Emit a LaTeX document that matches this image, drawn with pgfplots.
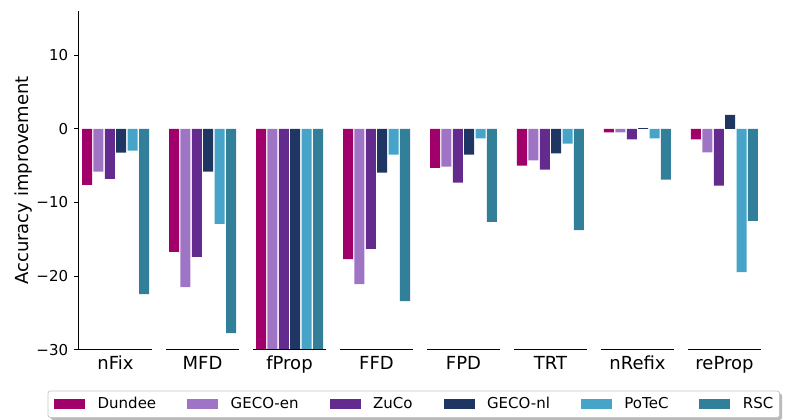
\documentclass[border=0pt]{standalone}
\usepackage{fontspec}
\setmainfont{DejaVu Sans}
\usepackage{pgfplots}
\pgfplotsset{compat=1.18}
\usepackage{pgfplotstable}
\usetikzlibrary{backgrounds}

\definecolor{cDundee}{HTML}{A1006B}
\definecolor{cGECOen}{HTML}{A074C4}
\definecolor{cZuCo}{HTML}{642B8E}
\definecolor{cGECOnl}{HTML}{1F3662}
\definecolor{cPoTeC}{HTML}{45A4C7}
\definecolor{cRSC}{HTML}{327F99}

% categories: 0 nFix, 1 MFD, 2 fProp, 3 FFD, 4 FPD, 5 TRT, 6 nRefix, 7 reProp
\pgfplotstableread{
x y
0 -7.6
1 -16.7
2 -30
3 -17.7
4 -5.3
5 -5.0
6 -0.5
7 -1.45
}\tDundee
\pgfplotstableread{
x y
0 -5.8
1 -21.5
2 -30
3 -21.1
4 -5.15
5 -4.3
6 -0.5
7 -3.2
}\tGECOen
\pgfplotstableread{
x y
0 -6.8
1 -17.4
2 -30
3 -16.3
4 -7.3
5 -5.55
6 -1.45
7 -7.7
}\tZuCo
\pgfplotstableread{
x y
0 -3.25
1 -5.8
2 -30
3 -5.95
4 -3.5
5 -3.35
6 0.1
7 1.9
}\tGECOnl
\pgfplotstableread{
x y
0 -2.95
1 -12.9
2 -30
3 -3.5
4 -1.3
5 -2.0
6 -1.3
7 -19.45
}\tPoTeC
\pgfplotstableread{
x y
0 -22.45
1 -27.75
2 -30
3 -23.4
4 -12.65
5 -13.75
6 -6.9
7 -12.5
}\tRSC

\begin{document}
\begin{tikzpicture}
\useasboundingbox (-79pt,-70.3pt) rectangle (706pt,349.7pt);
\begin{axis}[
  scale only axis, width=682pt, height=338.7pt,
  xmin=-0.42, xmax=7.42, ymin=-30, ymax=16,
  axis lines*=left,
  x axis line style={draw=none},
  y axis line style={line width=1pt, black},
  xtick={0,1,2,3,4,5,6,7},
  xticklabels={nFix,MFD,fProp,FFD,FPD,TRT,nRefix,reProp},
  xtick style={draw=none},
  ytick={-30,-20,-10,0,10},
  yticklabels={−30,−20,−10,0,10},
  ytick style={line width=1pt, black},
  tick align=outside, major tick length=5pt,
  minor tick num=0,
  clip=false,
  ybar, bar width=0.115,
  yticklabel style={font=\fontsize{15}{18}\selectfont, inner sep=0pt, anchor=east, xshift=-5.7pt},
  xticklabel style={font=\fontsize{18}{21}\selectfont, inner sep=0pt, anchor=base, yshift=-14.6pt},
  ylabel={Accuracy improvement},
  ylabel style={font=\fontsize{18}{21}\selectfont, inner sep=0pt, at={(axis description cs:-0.0938,0.5)}, anchor=north, rotate=0},
  legend columns=6,
  legend cell align=left,
  legend style={at={(-0.0455,-0.122)}, anchor=north west,
    draw=none, fill=none, name=leg,
    font=\fontsize{15}{18}\selectfont,
    inner xsep=6pt, inner ysep=6pt,
    column sep=0pt,
    nodes={inner sep=0pt, text height=11pt, text depth=3pt}},
  legend image code/.code={\fill[#1] (0pt,-5pt) rectangle (31pt,5pt);},
  /tikz/every odd column/.append style={column sep=12.5pt},
  /tikz/every even column/.append style={column sep=31pt},
]
\addplot[fill=cDundee, draw=none, bar shift=-0.3275] table[x=x,y=y] {\tDundee};
\addlegendentry{Dundee}
\addplot[fill=cGECOen, draw=none, bar shift=-0.1965] table[x=x,y=y] {\tGECOen};
\addlegendentry{GECO-en}
\addplot[fill=cZuCo, draw=none, bar shift=-0.0655] table[x=x,y=y] {\tZuCo};
\addlegendentry{ZuCo}
\addplot[fill=cGECOnl, draw=none, bar shift=0.0655] table[x=x,y=y] {\tGECOnl};
\addlegendentry{GECO-nl}
\addplot[fill=cPoTeC, draw=none, bar shift=0.1965] table[x=x,y=y] {\tPoTeC};
\addlegendentry{PoTeC}
\addplot[fill=cRSC, draw=none, bar shift=0.3275] table[x=x,y=y] {\tRSC};
\addlegendentry{RSC}
\draw[line width=1pt] (axis cs:-0.42,-30) -- (axis cs:0.42,-30);
\draw[line width=1pt] (axis cs:0.58,-30) -- (axis cs:1.42,-30);
\draw[line width=1pt] (axis cs:1.58,-30) -- (axis cs:2.42,-30);
\draw[line width=1pt] (axis cs:2.58,-30) -- (axis cs:3.42,-30);
\draw[line width=1pt] (axis cs:3.58,-30) -- (axis cs:4.42,-30);
\draw[line width=1pt] (axis cs:4.58,-30) -- (axis cs:5.42,-30);
\draw[line width=1pt] (axis cs:5.58,-30) -- (axis cs:6.42,-30);
\draw[line width=1pt] (axis cs:6.58,-30) -- (axis cs:7.42,-30);
\end{axis}
\begin{pgfonlayer}{background}
\fill[black!45, opacity=0.6, rounded corners=2.5pt]
  ([shift={(2.5pt,-2.5pt)}]leg.south west) rectangle ([shift={(2.5pt,-2.5pt)}]leg.north east);
\filldraw[fill=white, draw=black!22, line width=0.8pt, rounded corners=2.5pt]
  (leg.south west) rectangle (leg.north east);
\end{pgfonlayer}
\end{tikzpicture}
\end{document}
